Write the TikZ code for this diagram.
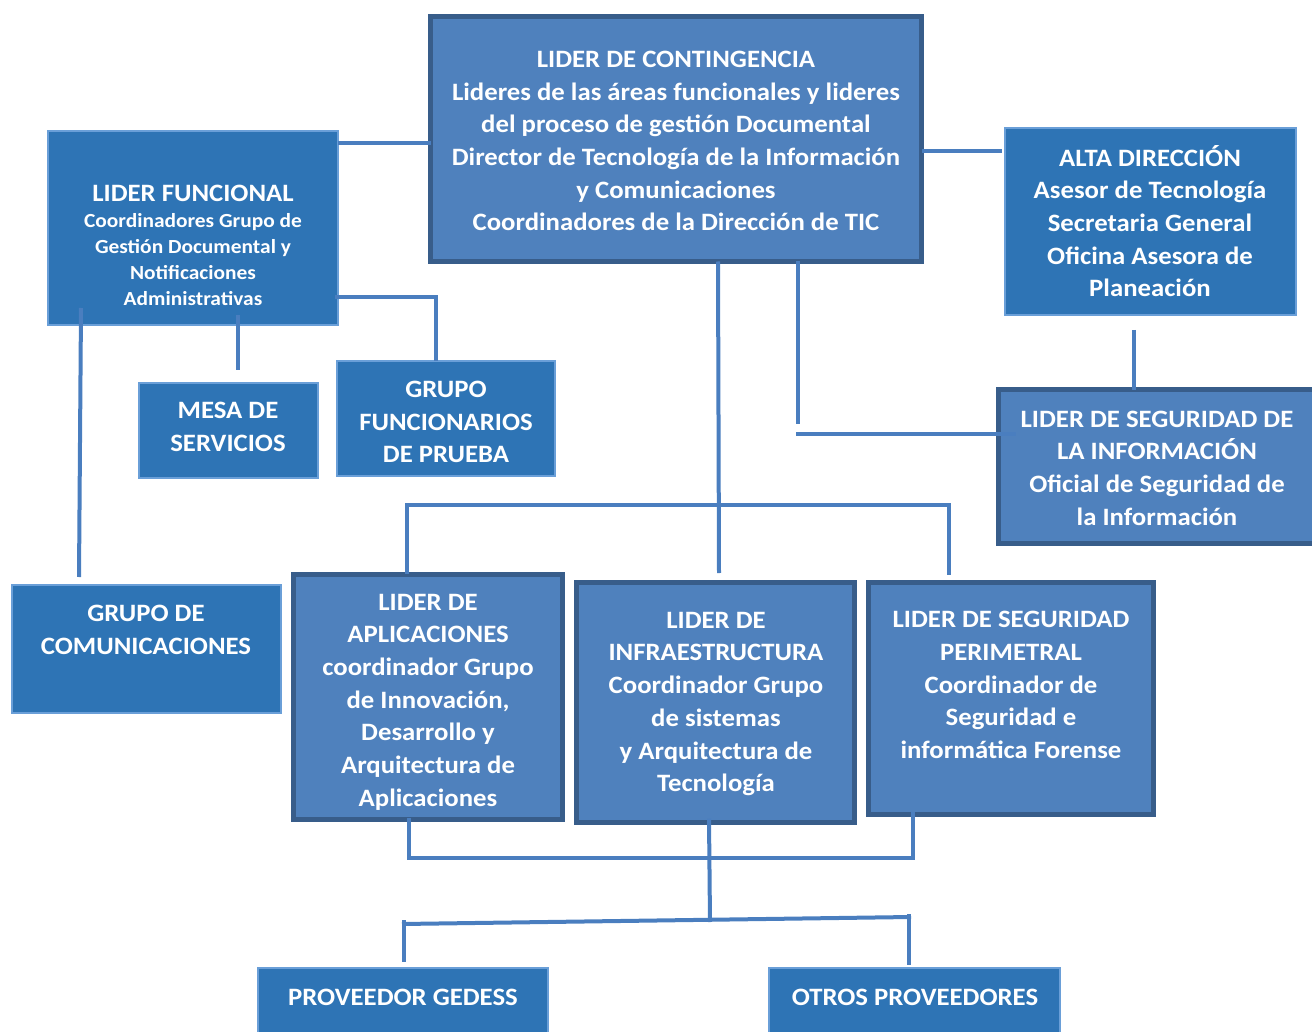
\documentclass[tikz,border=0pt]{standalone}
\usepackage{fontspec}
\setmainfont{Carlito}[FakeStretch=1.07]
\usetikzlibrary{calc}
\definecolor{fillA}{HTML}{4F81BD}
\definecolor{bordA}{HTML}{385D8A}
\definecolor{fillB}{HTML}{2E74B5}
\definecolor{bordB}{HTML}{6A9FD8}
\definecolor{lineC}{HTML}{4A7EBF}
\begin{document}
\begin{tikzpicture}[x=1pt,y=-1pt,
  boxA/.style={draw=bordA, line width=5pt, fill=fillA, inner sep=0pt, outer sep=0pt},
  boxB/.style={draw=bordB, line width=2.5pt, fill=fillB, inner sep=0pt, outer sep=0pt},
  txt/.style={text=white, font=\bfseries\fontsize{25}{32.7}\selectfont, align=center, inner sep=0pt},
  stxt/.style={text=white, font=\bfseries\fontsize{20}{26}\selectfont, align=center, inner sep=0pt},
  conn/.style={draw=lineC, line width=4pt}]
\useasboundingbox (0,0) rectangle (1312,1032);
% boxes
\node[boxA, minimum width=491pt, minimum height=245pt] (cont) at (676,139) {};
\node[boxA, minimum width=317pt, minimum height=154pt] (seg) at (1157,466.5) {};
\node[boxA, minimum width=269pt, minimum height=245pt] (apl) at (428,697) {};
\node[boxA, minimum width=278pt, minimum height=240pt] (inf) at (715.5,702.5) {};
\node[boxA, minimum width=285pt, minimum height=232pt] (per) at (1011,698.5) {};
\node[boxB, minimum width=290pt, minimum height=194pt] (func) at (193,228) {};
\node[boxB, minimum width=179pt, minimum height=95pt] (mesa) at (228.5,430.5) {};
\node[boxB, minimum width=218pt, minimum height=115pt] (gfun) at (446,418.5) {};
\node[boxB, minimum width=291pt, minimum height=187pt] (alta) at (1150.5,221.5) {};
\node[boxB, minimum width=269pt, minimum height=128pt] (comm) at (146.5,649) {};
\node[boxB, minimum width=290pt, minimum height=92pt] (gedess) at (403,1014) {};
\node[boxB, minimum width=291pt, minimum height=92pt] (otros) at (914.5,1014) {};
% texts
\node[txt] (contT) at (676,141) {LIDER DE CONTINGENCIA\\Lideres de las áreas funcionales y lideres\\del proceso de gestión Documental\\Director de Tecnología de la Información\\y Comunicaciones\\Coordinadores de la Dirección de TIC};
\node[stxt] (funcT) at (193,245) {{\fontsize{25}{26}\selectfont LIDER FUNCIONAL}\\Coordinadores Grupo de\\Gestión Documental y\\Notificaciones\\Administrativas};
\node[txt] (altaT) at (1150,221) {ALTA DIRECCIÓN\\Asesor de Tecnología\\Secretaria General\\Oficina Asesora de\\Planeación};
\node[txt] (segT) at (1157,468) {LIDER DE SEGURIDAD DE\\LA INFORMACIÓN\\Oficial de Seguridad de\\la Información};
\node[txt] (mesaT) at (228,427) {MESA DE\\SERVICIOS};
\node[txt] (gfunT) at (446,422) {GRUPO\\FUNCIONARIOS\\DE PRUEBA};
\node[txt] (commT) at (146,630) {GRUPO DE\\COMUNICACIONES};
\node[txt] (aplT) at (428,702) {LIDER DE\\APLICACIONES\\coordinador Grupo\\de Innovación,\\Desarrollo y\\Arquitectura de\\Aplicaciones};
\node[txt] (infT) at (716,704) {LIDER DE\\INFRAESTRUCTURA\\Coordinador Grupo\\de sistemas\\y Arquitectura de\\Tecnología};
\node[txt] (perT) at (1011,685) {LIDER DE SEGURIDAD\\PERIMETRAL\\Coordinador de\\Seguridad e\\informática Forense};
\node[txt] (gedessT) at (403,997) {PROVEEDOR GEDESS};
\node[txt] (otrosT) at (915,997) {OTROS PROVEEDORES};
% connectors
\draw[conn] (func.east |- 0,143) -- (cont.west |- 0,143);
\draw[conn] (cont.east |- 0,151) -- (1002,151);
\draw[conn] (335,297) -- (436,297) -- (gfun.north -| 436,0);
\draw[conn] (238,315) -- (238,370);
\draw[conn] (81,308) -- (79,577);
\draw[conn] (cont.south -| 718,0) -- (719,573);
\draw[conn] (405,505) -- (951,505);
\draw[conn] (407,503) -- (407,574);
\draw[conn] (949,503) -- (949,575);
\draw[conn] (cont.south -| 798,0) -- (798,424);
\draw[conn] (796,434) -- (1016,434);
\draw[conn] (1134,330) -- (seg.north -| 1134,0);
\draw[conn] (409,818) -- (409,860);
\draw[conn] (913,812) -- (913,860);
\draw[conn] (407,858) -- (915,858);
\draw[conn] (inf.south -| 709,0) ++(0,-4) -- (710,922);
\draw[conn] (402,924) -- (911,917);
\draw[conn] (404,920) -- (404,962);
\draw[conn] (909,914) -- (909,965);
\end{tikzpicture}
\end{document}
